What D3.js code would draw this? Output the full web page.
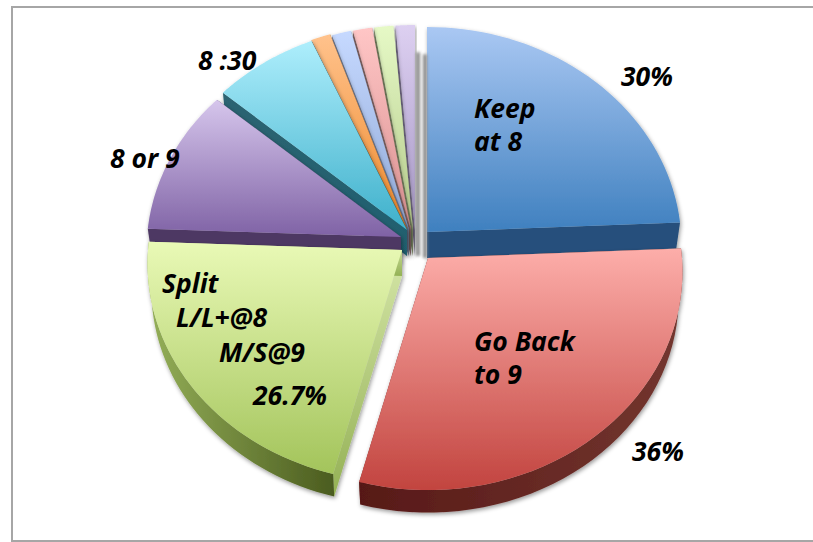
<!DOCTYPE html>
<html>
<head>
<meta charset="utf-8">
<script src="https://cdn.jsdelivr.net/npm/d3@7"></script>
<style>
  html, body { margin: 0; padding: 0; background: white; overflow: hidden; }
  text { font-family: "Open Sans", Lato, sans-serif; font-weight: 700; font-style: italic; font-size: 26.5px; fill: black; }
</style>
</head>
<body>
<div id="chart"></div>
<script>
// shares (the typed labels don't add up to the drawn angles)
const categories = ["Keep at 8", "Go Back to 9", "Split", "8 or 9", "8 :30", "Other 1", "Other 2", "Other 3", "Other 4", "Other 5"];
const shares = [24.3, 29.8, 21.5, 10.8, 7.1, 1.3, 1.3, 1.3, 1.3, 1.3];
const labels = ["Keep", "at 8", "30%", "Go Back", "to 9", "36%", "Split", "L/L+@8", "M/S@9", "26.7%", "8 or 9", "8 :30"];

const width = 813, height = 542;
const radius = 254, tilt = 217.7, persp = 0.062, depth = 26, bottomScale = 0.985;

// each slice is pulled out of the pie on its own, so keep its tip here
const tips = [[427, 232], [428, 258], [402, 250], [401, 237], [407, 230], [407, 229], [409, 230], [411, 230], [413, 230], [415, 230]];
const topColors = ["#aac8f3", "#fdaeaa", "#e9f9b6", "#d6c6ec", "#aeeefc", "#ffc28c", "#c6d9ff", "#ffc6c6", "#e6f9c6", "#ddd0f1"];
const botColors = ["#3f80bf", "#c2443f", "#a3c45b", "#7f62a5", "#3eb0cb", "#ee8a2c", "#8fa8d6", "#d88f8f", "#b3c98a", "#a596c4"];
const radialTop = ["#27507b", "#7a2a28", "#d5e6a8", "#4e3763", "#2d6472", "#8a5520", "#77839e", "#8a6a6a", "#7f8a66", "#7c7290"];
const radialBot = ["#27507b", "#7a2a28", "#94b155", "#4e3763", "#1f5f6e", "#8a5520", "#77839e", "#8a6a6a", "#7f8a66", "#7c7290"];
const wallLeft = ["#27507b", "#571917", "#94af58", "#4e3763", "#1f6474", "#8a5520", "#77839e", "#8a6a6a", "#7f8a66", "#7c7290"];
const wallRight = ["#27507b", "#73362f", "#4b5c1f", "#4e3763", "#1f6474", "#8a5520", "#77839e", "#8a6a6a", "#7f8a66", "#7c7290"];

const svg = d3.select("#chart").append("svg").attr("width", width).attr("height", height);
const defs = svg.append("defs");

const shadow = defs.append("filter").attr("id", "shadow")
  .attr("x", "-10%").attr("y", "-10%").attr("width", "120%").attr("height", "120%");
shadow.append("feDropShadow").attr("dx", 1).attr("dy", 2).attr("stdDeviation", 2)
  .attr("flood-color", "#000").attr("flood-opacity", 0.4);

const soft = defs.append("filter").attr("id", "soft").attr("filterUnits", "userSpaceOnUse")
  .attr("x", -20).attr("y", -220).attr("width", 40).attr("height", 270);
soft.append("feGaussianBlur").attr("stdDeviation", 1.8);

// frame runs off the right side of the picture
svg.append("rect").attr("x", 12).attr("y", 7).attr("width", 815).attr("height", 534)
  .attr("fill", "white").attr("stroke", "#a6a6a6").attr("stroke-width", 2);

const pie = d3.pie().sort(null).value(d => d);
const arcs = pie(shares);

// perspective: the front of the pie comes out a bit bigger than the back
function project(a, r) {
  const X = r * Math.sin(a), Y = -r * Math.cos(a);
  const s = 1 / (1 - persp * Y);
  return [radius * X * s, tilt * Y * s];
}

const line = d3.line();

function gradient(id, horizontal, from, to) {
  const g = defs.append("linearGradient").attr("id", id)
    .attr("x1", 0).attr("y1", 0)
    .attr("x2", horizontal ? 1 : 0).attr("y2", horizontal ? 0 : 1);
  g.append("stop").attr("offset", 0).attr("stop-color", from);
  g.append("stop").attr("offset", 1).attr("stop-color", to);
}

arcs.forEach((d, i) => {
  gradient("top" + i, false, topColors[i], botColors[i]);
  gradient("radial" + i, false, radialTop[i], radialBot[i]);
  gradient("wall" + i, true, wallLeft[i], wallRight[i]);
});

// back slices first, then blue, green and red in front
const drawOrder = [9, 8, 7, 6, 5, 4, 3, 0, 2, 1];

drawOrder.forEach(i => {
  const d = arcs[i];
  const g = svg.append("g").attr("transform", `translate(${tips[i]})`).attr("filter", "url(#shadow)");

  const angles = d3.range(0, 41).map(k => d.startAngle + (d.endAngle - d.startAngle) * k / 40);
  const topArc = angles.map(a => project(a, 1));
  const lower = p => [p[0] * bottomScale, p[1] * bottomScale + depth];
  const apex = [0, 0];

  // the grey gap either side of 12 o'clock
  if (i === 0 || i === 9) {
    const edge = project(0, 0.86);
    const side = i === 0 ? -2 : 3;
    svg.append("path")
      .attr("transform", `translate(${tips[i][0] + side},${tips[i][1]})`)
      .attr("d", line([edge, [0, depth]]))
      .attr("stroke", "#8a8a8a").attr("stroke-width", 4).attr("fill", "none")
      .attr("filter", "url(#soft)");
  }

  // radial faces
  [topArc[0], topArc[40]].forEach(p => {
    g.append("path")
      .attr("d", line([apex, p, lower(p), lower(apex)]) + "Z")
      .attr("fill", `url(#radial${i})`);
  });

  // outer wall, only the part facing the viewer
  const front = topArc.filter((p, k) => Math.cos(angles[k]) < 0.05);
  if (front.length > 1) {
    g.append("path")
      .attr("d", line(front.concat(front.map(lower).reverse())) + "Z")
      .attr("fill", `url(#wall${i})`);
  }

  g.append("path")
    .attr("d", line([apex].concat(topArc)) + "Z")
    .attr("fill", `url(#top${i})`);
});

const labelPos = [[474, 118], [474, 151], [621, 86], [474, 351], [474, 384], [632, 461],
  [162, 293], [176, 327], [219, 362], [253, 405], [110, 168], [198, 70]];

svg.selectAll("text.lab").data(labels).enter().append("text")
  .attr("class", "lab")
  .attr("x", (d, i) => labelPos[i][0])
  .attr("y", (d, i) => labelPos[i][1])
  .text(d => d);
</script>
</body>
</html>
